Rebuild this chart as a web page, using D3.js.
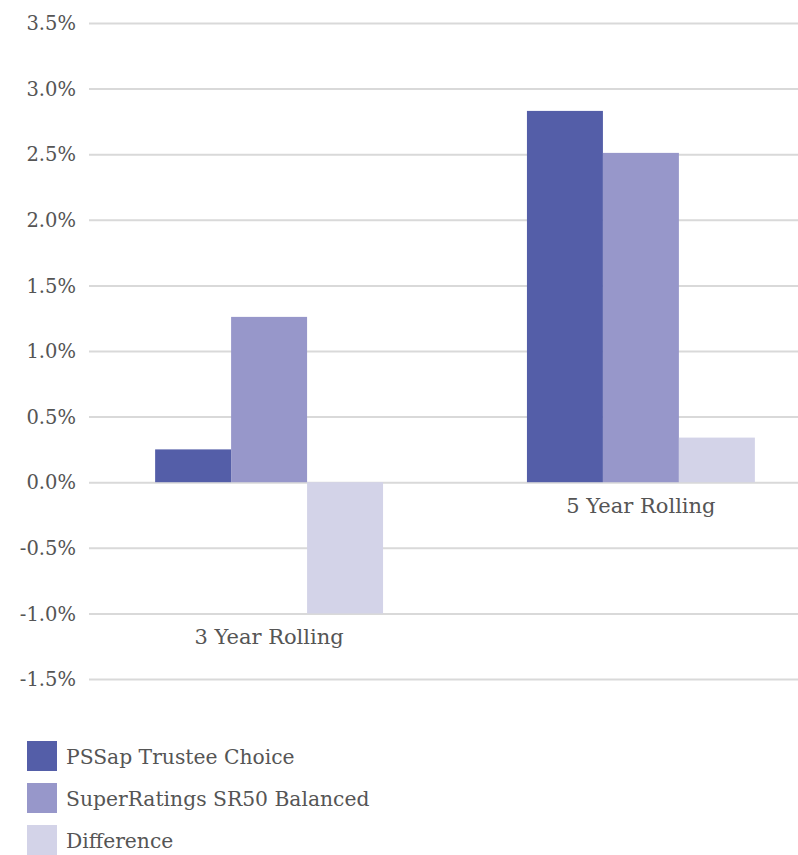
<!DOCTYPE html>
<html>
<head>
<meta charset="utf-8">
<script src="https://cdn.jsdelivr.net/npm/d3@7"></script>
<style>
	body { margin: 0; background: #fff; }
	text { font-family: "DejaVu Serif", serif; fill: #555; }
</style>
</head>
<body>
<svg id="chart"></svg>
<script>
const categories = ["3 Year Rolling", "5 Year Rolling"];
const seriesNames = ["PSSap Trustee Choice", "SuperRatings SR50 Balanced", "Difference"];
const pssap = [0.25, 2.83];
const sr50 = [1.26, 2.51];
const difference = [-1.0, 0.34];
const yTicks = [-1.5, -1.0, -0.5, 0.0, 0.5, 1.0, 1.5, 2.0, 2.5, 3.0, 3.5];

const colors = ["#545EA8", "#9797CA", "#D3D3E8"];
const series = [pssap, sr50, difference];

let WIDTH = 798,
	HEIGHT = 855;

let svg = d3.select("#chart")
	.attr("width", WIDTH)
	.attr("height", HEIGHT);

let yScale = d3.scaleLinear()
	.domain([-1.5, 3.5])
	.range([679, 23]);

let xScale = d3.scaleBand()
	.domain(categories)
	.range([83, 827])
	.paddingInner(0.387)
	.paddingOuter(0.194);

let xInner = d3.scaleBand()
	.domain(seriesNames)
	.range([0, xScale.bandwidth()]);

// gridlines
let yAxis = d3.axisLeft(yScale)
	.tickValues(yTicks)
	.tickSize(-(WIDTH - 89))
	.tickPadding(13)
	.tickFormat(function (d) { return d.toFixed(1) + "%"; });

let gAxis = svg.append("g")
	.attr("transform", "translate(89,0)")
	.call(yAxis);

gAxis.select(".domain").remove();
gAxis.selectAll(".tick line")
	.attr("stroke", "#d9d9d9")
	.attr("stroke-width", 2);
gAxis.selectAll(".tick text")
	.attr("font-size", 19.5)
	.attr("font-family", "DejaVu Serif, serif")
	.attr("fill", "#555")
	.attr("dy", "0.34em");

// bars
for (let i = 0; i < series.length; i++) {
	svg.append("g")
		.selectAll("rect")
		.data(series[i])
		.enter()
		.append("rect")
		.attr("x", function (d, k) { return xScale(categories[k]) + xInner(seriesNames[i]); })
		.attr("width", xInner.bandwidth())
		.attr("y", function (d) { return yScale(Math.max(0, d)); })
		.attr("height", function (d) { return Math.abs(yScale(d) - yScale(0)); })
		.attr("fill", colors[i]);
}

// category labels, placed under the lowest bar in each group
svg.append("g")
	.selectAll("text")
	.data(categories)
	.enter()
	.append("text")
	.attr("x", function (d) { return xScale(d) + xScale.bandwidth() / 2; })
	.attr("y", function (d, k) {
		let low = Math.min(0, pssap[k], sr50[k], difference[k]);
		return yScale(low) + 31;
	})
	.attr("text-anchor", "middle")
	.attr("font-size", 21)
	.text(function (d) { return d; });

// legend
let legend = svg.append("g")
	.selectAll("g")
	.data(seriesNames)
	.enter()
	.append("g")
	.attr("transform", function (d, i) { return "translate(27," + (741 + i * 42) + ")"; });

legend.append("rect")
	.attr("width", 30)
	.attr("height", 30)
	.attr("fill", function (d, i) { return colors[i]; });

legend.append("text")
	.attr("x", 39)
	.attr("y", 23)
	.attr("font-size", 20.3)
	.text(function (d) { return d; });
</script>
</body>
</html>
